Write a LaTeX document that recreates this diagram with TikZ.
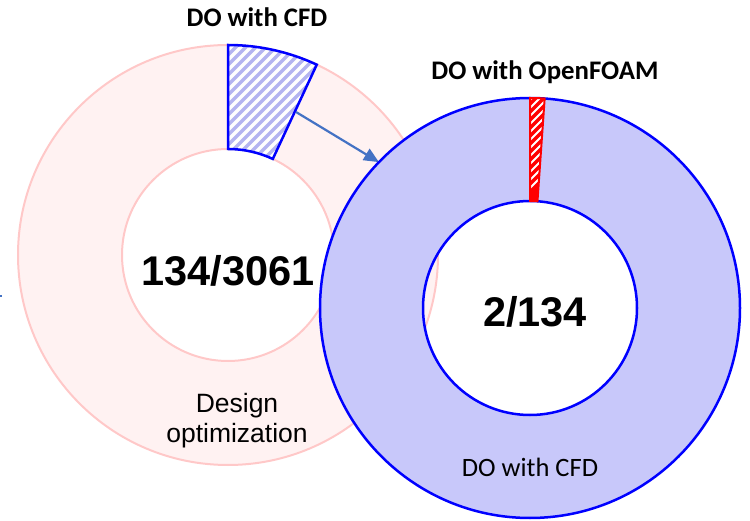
\documentclass[tikz,border=0pt]{standalone}
\usepackage{fontspec}
\setmainfont{Liberation Sans}
\newfontfamily\calibri{Carlito}
\usetikzlibrary{arrows.meta,calc}
\definecolor{ringpink}{HTML}{FFF2F2}
\definecolor{linepink}{HTML}{FFC8C8}
\definecolor{lav}{HTML}{C8C8FA}
\definecolor{pureblue}{HTML}{0000FF}
\definecolor{hatchblue}{HTML}{B4B4F0}
\definecolor{arrowblue}{HTML}{4472C4}
\definecolor{redseg}{HTML}{FF0000}
\tikzset{
  boldlabel/.style={font=\calibri\bfseries\fontsize{26.8}{30}\selectfont, inner sep=0pt},
  biglabel/.style={font=\bfseries\fontsize{41.5}{48}\selectfont, inner sep=0pt},
  ringlabel/.style={font=\fontsize{26.5}{30}\selectfont, align=center, inner sep=0pt},
  cfdlabel/.style={font=\calibri\fontsize{26.5}{30}\selectfont, inner sep=0pt},
  flow/.style={draw=arrowblue, line width=2.2pt, -{Triangle[length=15pt,width=13pt]}}
}
\begin{document}
\begin{tikzpicture}[x=1pt,y=1pt]
\useasboundingbox (0,0) rectangle (750,520);
\coordinate (lc) at (228,265);
\coordinate (rc) at (530,212);
% left donut
\fill[ringpink, even odd rule] (lc) circle (210) (lc) circle (106);
\draw[linepink, line width=2pt] (lc) circle (210);
\draw[linepink, line width=2pt] (lc) circle (106);
% left segment
\path[fill=white] ($(lc)+(90:210)$) arc[start angle=90, end angle=65, radius=210]
   -- ($(lc)+(65:106)$) arc[start angle=65, end angle=90, radius=106] -- cycle;
\begin{scope}
\clip ($(lc)+(90:210)$) arc[start angle=90, end angle=65, radius=210]
   -- ($(lc)+(65:106)$) arc[start angle=65, end angle=90, radius=106] -- cycle;
\foreach \k in {-20,...,20} {
  \draw[hatchblue, line width=3.5pt] ($(lc)+(\k*10,100)$) -- ++(140,140);
  \draw[hatchblue, line width=3.5pt] ($(lc)+(\k*10,100)$) -- ++(-140,-140);
}
\end{scope}
\draw[pureblue, line width=2.5pt, line join=miter] ($(lc)+(90:210)$) arc[start angle=90, end angle=65, radius=210]
   -- ($(lc)+(65:106)$) arc[start angle=65, end angle=90, radius=106] -- cycle;
% arrow
\coordinate (astart) at (296,408);
\coordinate (aend) at ($(rc)+(136:210)$);
\draw[flow] (astart) -- (aend);
\coordinate (tick) at (0,224);
\draw[arrowblue, line width=1.5pt] (tick) -- ++(2,0);
% right donut
\fill[lav, even odd rule] (rc) circle (210) (rc) circle (107);
\draw[pureblue, line width=2.5pt] (rc) circle (210);
\draw[pureblue, line width=2.5pt] (rc) circle (107);
% right segment
\fill[redseg] ($(rc)+(90:210)$) arc[start angle=90, end angle=86, radius=210]
   -- ($(rc)+(86:107)$) arc[start angle=86, end angle=90, radius=107] -- cycle;
\begin{scope}
\clip ($(rc)+(90:210)$) arc[start angle=90, end angle=86, radius=210]
   -- ($(rc)+(86:107)$) arc[start angle=86, end angle=90, radius=107] -- cycle;
\foreach \k in {0,...,16} {
  \draw[white, line width=2pt] ($(rc)+(-20,100+\k*8)$) -- ++(40,40);
}
\end{scope}
\draw[redseg, line width=2pt, line join=miter] ($(rc)+(90:210)$) arc[start angle=90, end angle=86, radius=210]
   -- ($(rc)+(86:107)$) arc[start angle=86, end angle=90, radius=107] -- cycle;
% labels
\node[boldlabel] (t1) at (257,503) {DO with CFD};
\node[boldlabel] (t2) at (545,448) {DO with OpenFOAM};
\node[biglabel] (n1) at (228,249) {134/3061};
\node[biglabel] (n2) at (535,208) {2/134};
\node[ringlabel] (d1) at (237,99) {Design\\optimization};
\node[cfdlabel] (d2) at (530,53) {DO with CFD};
\end{tikzpicture}
\end{document}
